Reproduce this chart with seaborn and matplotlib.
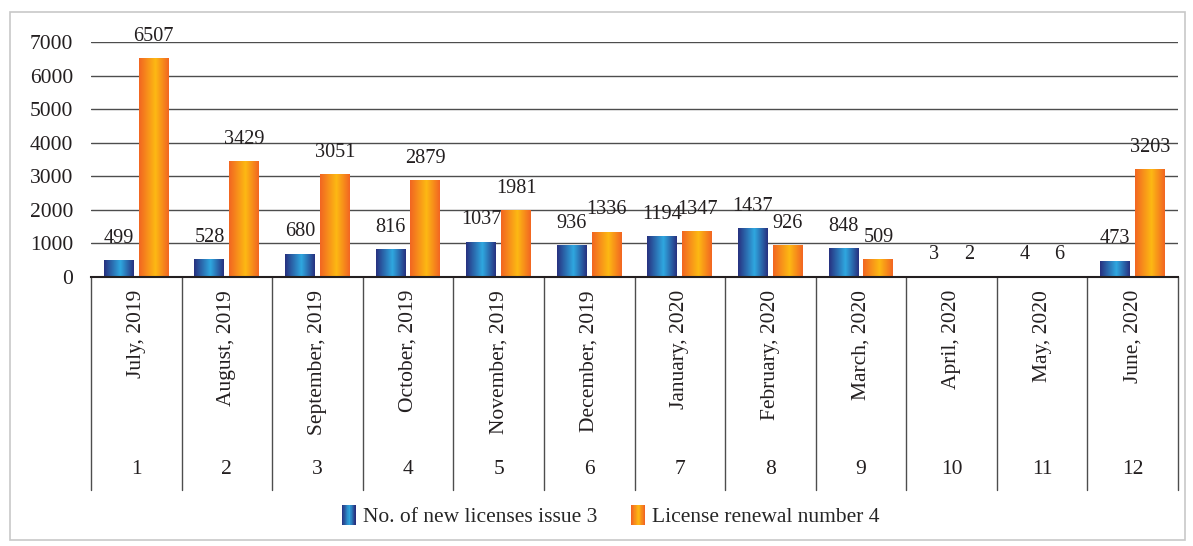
import matplotlib
matplotlib.use("Agg")
import matplotlib.pyplot as plt
import matplotlib.transforms as mtransforms
import seaborn as sns
import numpy as np
import pandas as pd
from matplotlib.colors import LinearSegmentedColormap
from matplotlib.patches import Rectangle, Patch
from matplotlib.legend_handler import HandlerBase

# data
months = ["July, 2019", "August, 2019", "September, 2019", "October, 2019",
          "November, 2019", "December, 2019", "January, 2020", "February, 2020",
          "March, 2020", "April, 2020", "May, 2020", "June, 2020"]
month_no = ["1", "2", "3", "4", "5", "6", "7", "8", "9", "10", "11", "12"]
new_licenses = [499, 528, 680, 816, 1037, 936, 1194, 1437, 848, 3, 4, 473]
renewals = [6507, 3429, 3051, 2879, 1981, 1336, 1347, 926, 509, 2, 6, 3203]
series = ["No. of new licenses issue 3", "License renewal number 4"]
y_ticks = [0, 1000, 2000, 3000, 4000, 5000, 6000, 7000]

df = pd.DataFrame({
    "month": months * 2,
    "value": new_licenses + renewals,
    "series": [series[0]] * len(months) + [series[1]] * len(months),
})

# gradient fills like the Excel bars
blue_cmap = LinearSegmentedColormap.from_list(
    "blue_grad", [(0, "#27307f"), (0.55, "#2fa8e0"), (1, "#27307f")])
orange_cmap = LinearSegmentedColormap.from_list(
    "orange_grad", [(0, "#f26522"), (0.55, "#fdb913"), (1, "#f26522")])
cmaps = [blue_cmap, orange_cmap]

sns.set_style("white")
plt.rcParams["font.family"] = ["Liberation Serif", "DejaVu Serif"]
FS = 15.5

fig = plt.figure(figsize=(11.93, 5.46), dpi=100)
ax = fig.add_axes([91 / 1193, 1 - 277 / 546, (1178 - 91) / 1193, (277 - 42) / 546])

sns.barplot(data=df, x="month", y="value", hue="series", order=months,
            hue_order=series, palette=["#2fa8e0", "#fdb913"], width=0.77,
            gap=0.14, saturation=1, legend=False, ax=ax, zorder=2)

grad = np.linspace(0, 1, 256).reshape(1, -1)
for cont, cmap in zip(ax.containers, cmaps):
    for bar, val in zip(cont, cont.datavalues):
        x0, w, h = bar.get_x(), bar.get_width(), bar.get_height()
        bar.set_visible(False)
        ax.imshow(grad, cmap=cmap, aspect="auto", extent=(x0, x0 + w, 0, h),
                  zorder=2, interpolation="bilinear")
        ax.annotate(f"{int(val)}", (x0 + w / 2, h), xytext=(0, 16),
                    textcoords="offset points", ha="center", va="center",
                    fontsize=14.6, color="#231f20")

ax.set_xlim(-0.5, len(months) - 0.5)
ax.set_ylim(0, 7000)
ax.set_yticks(y_ticks)
ax.set_yticklabels([str(t) for t in y_ticks], fontsize=FS, color="#231f20")
ax.tick_params(axis="y", length=0, pad=13)
ax.set_xticks([])
ax.set_xlabel("")
ax.set_ylabel("")
ax.yaxis.grid(True, color="#4d4d4d", lw=1)
ax.set_axisbelow(True)
for s in ["top", "right", "left"]:
    ax.spines[s].set_visible(False)
ax.spines["bottom"].set_color("#231f20")
ax.spines["bottom"].set_linewidth(1.5)
ax.spines["bottom"].set_zorder(3)

# two-level category axis below the plot
trans = mtransforms.blended_transform_factory(ax.transData, fig.transFigure)
for i in range(len(months) + 1):
    ax.plot([i - 0.5, i - 0.5], [1 - 277 / 546, 1 - 490 / 546], transform=trans,
            color="#4d4d4d", lw=1, clip_on=False)
for i, (m, n) in enumerate(zip(months, month_no)):
    ax.text(i, 1 - 290 / 546, m, rotation=90, ha="center", va="top",
            transform=trans, fontsize=FS, color="#231f20")
    ax.text(i, 1 - 470 / 546, n, ha="center", va="center",
            transform=trans, fontsize=FS, color="#231f20")


class GradientHandler(HandlerBase):
    def __init__(self, cmap):
        super().__init__()
        self.cmap = cmap

    def create_artists(self, legend, orig_handle, xdescent, ydescent,
                       width, height, fontsize, trans):
        n = 24
        arts = []
        for k in range(n):
            arts.append(Rectangle((-xdescent + k * width / n, -ydescent - 1),
                                  width / n + 0.2, height + 2,
                                  facecolor=self.cmap(k / (n - 1)), lw=0,
                                  transform=trans))
        return arts


handles = [Patch(label=series[0]), Patch(label=series[1])]
fig.legend(handles=handles, loc="center", bbox_to_anchor=(0.512, 1 - 517 / 546),
           ncol=2, frameon=False, fontsize=FS, handlelength=0.65,
           handleheight=0.8, handletextpad=0.35, columnspacing=1.55,
           handler_map={handles[0]: GradientHandler(blue_cmap),
                        handles[1]: GradientHandler(orange_cmap)})

# light frame around the whole chart
fig.patches.append(Rectangle((10 / 1193, 1 - 540 / 546), 1175 / 1193, 528 / 546,
                             transform=fig.transFigure, fill=False,
                             ec="#c8c8c8", lw=1.2))

fig.savefig("out.png", dpi=100, facecolor="white")
